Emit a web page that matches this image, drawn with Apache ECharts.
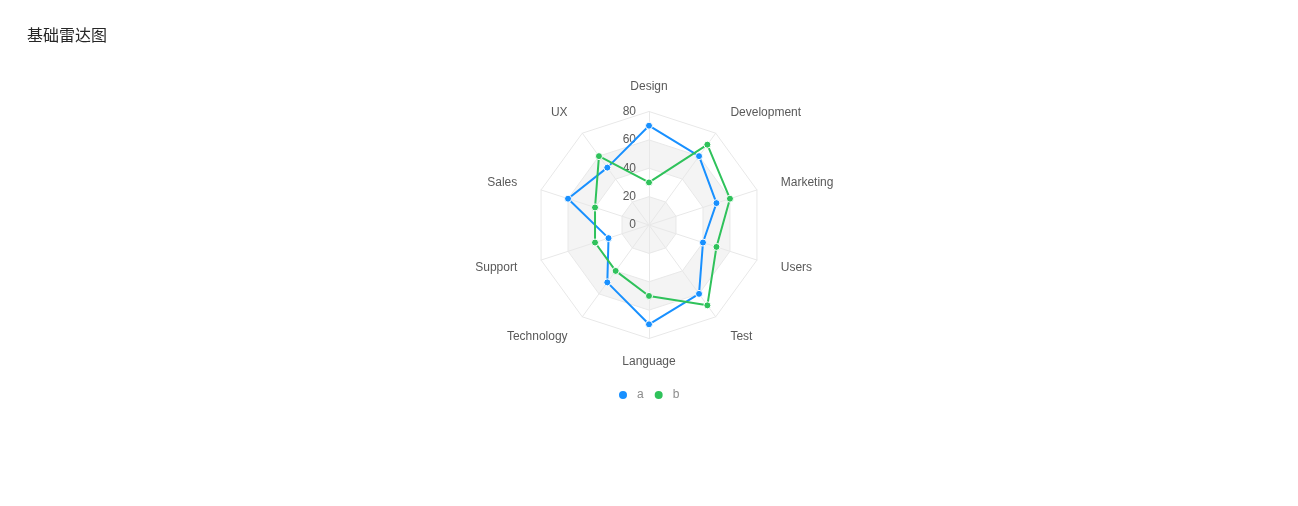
<!DOCTYPE html>
<html>
<head>
<meta charset="utf-8">
<script src="https://cdn.jsdelivr.net/npm/echarts@6/dist/echarts.min.js"></script>
<style>
html,body{margin:0;padding:0;background:#fff;}
#main{width:1298px;height:506px;}
</style>
</head>
<body>
<div id="main"></div>
<script>
const titleText = '基础雷达图';
const indicatorNames = ['Design', 'Development', 'Marketing', 'Users', 'Test', 'Language', 'Technology', 'Support', 'Sales', 'UX'];
const seriesNames = ['a', 'b'];
const valuesA = [70, 60, 50, 40, 60, 70, 50, 30, 60, 50];
const valuesB = [30, 70, 60, 50, 70, 50, 40, 40, 40, 60];
const axisMin = 0;
const axisMax = 80;
const colors = ['#1890ff', '#2fc25b'];

const FONT = '"Liberation Sans", "Helvetica Neue", Arial, "Noto Sans CJK SC", sans-serif';

// ECharts lays indicators counter-clockwise; reorder so they run clockwise from the top.
const order = indicatorNames.map((_, i) => (indicatorNames.length - i) % indicatorNames.length);
const reorder = arr => order.map(i => arr[i]);

const indicators = order.map(i => {
  const o = { name: indicatorNames[i], min: axisMin, max: axisMax };
  if (i === 0) { o.nameGap = 19; o.axisLabel = { show: true }; }
  if (i === 5) { o.nameGap = 17; }
  return o;
});

const chart = echarts.init(document.getElementById('main'), null, { renderer: 'canvas' });
chart.setOption({
  animation: false,
  color: colors,
  textStyle: { fontFamily: FONT },
  title: {
    text: titleText,
    left: 27,
    top: 27,
    padding: 0,
    textStyle: { fontSize: 16, fontWeight: 'normal', color: '#262626', fontFamily: '"Noto Sans CJK SC", sans-serif' }
  },
  legend: {
    data: seriesNames,
    left: 612,
    top: 384,
    icon: 'circle',
    itemWidth: 18,
    itemHeight: 10,
    itemGap: 9,
    textStyle: { color: '#8c8c8c', fontSize: 12, fontFamily: FONT }
  },
  radar: {
    center: [649, 225],
    radius: 113.5,
    startAngle: 90,
    splitNumber: 4,
    shape: 'polygon',
    nameGap: 25,
    axisName: { color: '#595959', fontSize: 12, fontFamily: FONT },
    axisLine: { lineStyle: { color: '#e8e8e8', width: 1 } },
    splitLine: { lineStyle: { color: '#e8e8e8', width: 1 } },
    splitArea: { show: true, areaStyle: { color: ['#f4f4f4', 'rgba(255,255,255,0)'] } },
    axisLabel: { show: false, color: '#595959', fontSize: 12, margin: 13, fontFamily: FONT },
    indicator: indicators
  },
  series: [{
    type: 'radar',
    symbol: 'circle',
    symbolSize: 7,
    lineStyle: { width: 2 },
    itemStyle: { borderColor: '#fff', borderWidth: 1 },
    data: [
      { name: seriesNames[0], value: reorder(valuesA), itemStyle: { color: colors[0] }, lineStyle: { color: colors[0], width: 2 } },
      { name: seriesNames[1], value: reorder(valuesB), itemStyle: { color: colors[1] }, lineStyle: { color: colors[1], width: 2 } }
    ]
  }]
});
</script>
</body>
</html>
